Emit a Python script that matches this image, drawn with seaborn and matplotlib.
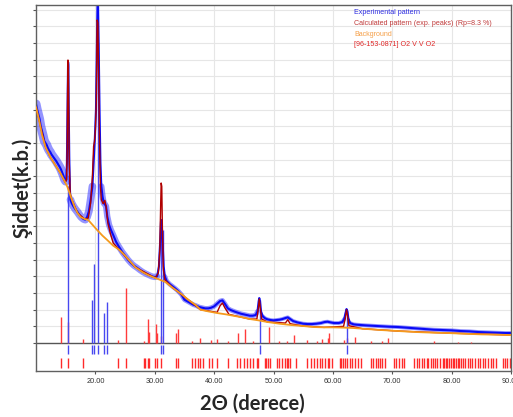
import numpy as np
import matplotlib
matplotlib.use('Agg')
import matplotlib.pyplot as plt
import seaborn as sns

# deneysel desen (2theta, siddet)
exp_x = [10.0, 10.2, 10.4, 10.6, 10.8, 11.0, 11.2, 11.4, 11.6, 11.8, 12.0, 12.2, 12.4, 12.6, 12.8,
         13.0, 13.2, 13.4, 13.6, 13.8, 14.0, 14.2, 14.4, 14.6, 14.8, 15.0, 15.1, 15.2, 15.3, 15.4,
         15.45, 15.5, 15.6, 15.7, 15.8, 16.0, 16.3, 16.6, 17.0, 17.3, 17.6, 18.0, 18.3, 18.6, 18.9,
         19.2, 19.5, 19.7, 19.9, 20.1, 20.25, 20.35, 20.45, 20.55, 20.7, 20.85, 21.0, 21.2, 21.4, 21.6,
         21.8, 22.0, 22.3, 22.6, 23.0, 23.5, 24.0, 24.5, 25.0, 25.5, 26.0, 26.5, 27.0, 27.5, 28.0,
         28.5, 29.0, 29.5, 30.0, 30.4, 30.7, 30.9, 31.05, 31.15, 31.3, 31.5, 31.7, 32.0, 32.5, 33.0,
         33.5, 34.0, 34.5, 35.0, 35.5, 36.0, 36.5, 37.0, 37.5, 38.0, 38.5, 39.0, 39.5, 40.0, 40.5,
         41.0, 41.4, 41.8, 42.3, 42.8, 43.5, 44.0, 44.5, 45.0, 45.5, 46.0, 46.5, 47.0, 47.3, 47.5,
         47.6, 47.7, 47.9, 48.2, 48.6, 49.0, 49.5, 50.0, 50.5, 51.0, 51.5, 52.0, 52.4, 52.8, 53.3,
         54.0, 54.5, 55.0, 55.7, 56.5, 57.2, 58.0, 58.6, 59.1, 59.6, 60.2, 61.0, 61.6, 61.9, 62.1,
         62.3, 62.45, 62.6, 62.9, 63.5, 64.0, 64.7, 65.5, 66.5, 67.5, 68.5, 69.5, 71.0, 72.5, 74.0,
         75.5, 77.0, 78.5, 80.0, 81.5, 83.0, 84.5, 86.0, 87.5, 89.0, 90.0]
exp_y = [717, 700, 686, 672, 650, 636, 622, 606, 600, 594, 585, 578, 573, 566, 561,
         556, 551, 546, 540, 534, 528, 521, 512, 503, 492, 486, 490, 540, 700, 843,
         835, 720, 560, 465, 430, 420, 410, 402, 393, 385, 378, 372, 370, 378, 395,
         430, 470, 540, 610, 700, 880, 1014, 1014, 900, 700, 540, 470, 440, 420, 416,
         410, 380, 355, 340, 324, 303, 288, 274, 262, 250, 240, 232, 226, 219, 213,
         208, 204, 200, 198, 200, 230, 300, 365, 369, 310, 230, 200, 186, 177, 170,
         163, 155, 145, 130, 125, 120, 115, 112, 108, 106, 104, 104, 106, 110, 118,
         126, 128, 118, 104, 99, 94, 91, 88, 86, 84, 82, 82, 84, 95, 125,
         135, 128, 95, 80, 74, 71, 69, 68, 69, 70, 72, 75, 77, 72, 66,
         62, 60, 58, 57, 57, 58, 60, 63, 64, 62, 60, 60, 63, 72, 88,
         102, 95, 75, 60, 56, 55, 54, 53, 52, 51, 50, 49, 48, 46, 44,
         42, 40, 39, 38, 36, 35, 33, 32, 31, 30, 30]

# hesaplanan desen
calc_x = [10.0, 11.6, 12.4, 14.1, 14.9, 15.15, 15.25, 15.32, 15.38, 15.45, 15.52, 15.6, 15.75, 16.0,
          17.0, 18.2, 18.8, 19.2, 19.5, 19.7, 19.85, 20.0, 20.15, 20.3, 20.42, 20.55, 20.7, 20.85,
          21.0, 21.3, 21.6, 21.8, 22.1, 22.5, 23.0, 24.0, 26.7, 30.1, 30.6, 30.85, 31.0, 31.08,
          31.18, 31.3, 31.45, 31.7, 33.0, 35.7, 37.7, 40.5, 41.0, 41.4, 41.8, 42.5, 44.5, 46.0,
          47.2, 47.45, 47.6, 47.75, 48.0, 49.0, 52.0, 52.4, 52.8, 55.0, 58.5, 61.8, 62.1, 62.3,
          62.45, 62.7, 65.0, 71.0, 79.4, 90.0]
calc_y = [708, 588, 558, 510, 482, 490, 580, 760, 849, 830, 680, 540, 450, 432,
          390, 372, 375, 420, 500, 590, 605, 640, 720, 969, 960, 800, 600, 470,
          430, 418, 428, 410, 360, 330, 300, 280, 228, 195, 210, 280, 420, 480,
          470, 330, 220, 190, 166, 129, 100, 92, 112, 120, 106, 86, 78, 72,
          72, 105, 132, 110, 72, 63, 60, 70, 58, 51, 47, 50, 75, 100,
          85, 52, 43, 36, 30, 24]

# arka plan
bg_x = [10.0, 10.5, 11.0, 11.6, 12.4, 13.2, 14.1, 14.7, 15.3, 16.0, 16.5, 17.0, 17.5, 18.2,
        18.8, 19.5, 20.3, 21.2, 22.0, 23.0, 24.0, 24.6, 25.5, 26.7, 28.0, 29.0, 30.1, 31.0,
        31.8, 33.0, 34.5, 35.7, 36.9, 37.7, 39.0, 40.5, 42.0, 43.5, 44.5, 46.0, 47.5, 49.0,
        51.0, 53.0, 55.0, 56.8, 58.5, 60.0, 62.3, 63.5, 65.0, 68.1, 71.0, 74.0, 77.0, 79.4,
        82.0, 85.0, 88.0, 90.0]
bg_y = [708, 670, 625, 588, 558, 535, 510, 490, 468, 432, 408, 390, 378, 372,
        369, 355, 339, 322, 309, 292, 280, 270, 252, 228, 212, 203, 195, 189,
        183, 166, 147, 129, 114, 100, 95, 90, 86, 81, 78, 72, 68, 63,
        58, 54, 51, 48, 47, 47, 46, 45, 43, 39, 36, 33, 31, 30,
        28, 26, 25, 24]

# deneysel pik cizgileri (mavi)
peak_pos = [15.35, 19.5, 19.7, 20.42, 21.4, 21.97, 31.05, 31.4, 47.65, 62.3]
peak_h = [470, 129, 237, 900, 91, 123, 360, 340, 130, 95]

# [96-153-0871] faz cizgileri (kirmizi)
ref_pos = [14.27, 15.4, 17.87, 23.83, 25.23, 28.15, 28.89, 29.11, 30.24, 30.4, 31.13, 33.6, 33.95,
           36.3, 37.6, 39.4, 40.4, 42.3, 44.0, 45.2, 46.6, 49.3, 51.0, 52.2, 53.4, 55.7, 57.4,
           58.2, 59.1, 59.4, 61.9, 62.3, 63.7, 66.4, 68.3, 69.2, 77.0, 81.0, 83.3]
ref_h = [79, 63, 13, 8, 166, 6, 71, 33, 58, 30, 20, 29, 41,
         7, 14, 9, 11, 5, 29, 43, 6, 49, 5, 7, 24, 8, 5,
         12, 14, 29, 8, 14, 19, 5, 7, 14, 7, 4, 4]

# alt seritteki faz konumlari
ref_ticks = [14.27, 15.4, 17.86, 23.83, 25.23, 28.15, 28.43, 28.89, 29.11, 30.12, 30.4, 31.13, 33.6,
             33.95, 36.3, 36.7, 37.2, 37.6, 38.1, 39.1, 39.7, 40.4, 42.3, 43.9, 44.3, 45.0, 45.5,
             46.1, 46.6, 47.2, 47.4, 48.5, 48.8, 49.1, 49.4, 50.6, 51.0, 51.5, 51.9, 52.2, 52.4,
             52.8, 53.8, 55.7, 56.3, 56.8, 57.4, 57.8, 58.2, 58.6, 59.1, 59.3, 59.9, 61.2, 61.4,
             61.7, 62.0, 62.3, 62.8, 63.3, 63.7, 64.2, 64.7, 66.4, 66.8, 67.2, 67.6, 67.9, 68.3,
             68.8, 70.3, 70.7, 71.1, 71.6, 72.0, 73.7, 74.1, 74.5, 75.0, 75.3, 75.8, 76.1, 76.5,
             76.9, 77.2, 77.6, 78.0, 78.5, 78.7, 79.0, 79.3, 79.6, 79.9, 80.2, 80.4, 80.7, 81.0,
             81.3, 81.6, 81.9, 82.3, 82.7, 83.1, 83.5, 84.0, 84.4, 84.8, 85.2, 85.7, 86.1, 86.6,
             87.0, 87.5, 88.6, 89.0, 89.4, 89.9]

legend_lines = ['Experimental pattern', 'Calculated pattern (exp. peaks) (Rp=8.3 %)',
                'Background', '[96-153-0871] O2 V V O2']
legend_colors = ['#2a2ae0', '#c03a3a', '#f5a04a', '#e02828']

sns.set_style('white')
plt.rcParams['font.family'] = ['Liberation Sans', 'DejaVu Sans']

fig = plt.figure(figsize=(5.13, 4.17), dpi=100)
ax = fig.add_axes([0.0702, 0.111, 0.9259, 0.877])

xticks = np.arange(20, 91, 10)
yticks = np.arange(0, 1001, 50)

# izgara
ax.hlines(yticks[1:], 10, 90, color='#e6e6e6', lw=0.8, zorder=0)
ax.vlines(xticks[:-1], 0, 1014, color='#e6e6e6', lw=0.8, zorder=0)
ax.axhline(0, color='#555555', lw=1, zorder=1)

ax.vlines(ref_pos, 0, ref_h, color='#ff3b3b', lw=1, zorder=1)
ax.vlines(peak_pos, 0, peak_h, color='#4848f0', lw=1, zorder=1.5)
ax.vlines(peak_pos, -33, -5, color='#4848f0', lw=1, zorder=1.5)
ax.vlines(ref_ticks, -76, -46, color='#ff2a2a', lw=1, zorder=1.5)

# gurultu bandi: piklerin disindaki duz bolgeler
segments = [(10.0, 15.1, 6.5), (15.8, 19.5, 5.5), (21.0, 30.4, 4.5), (31.7, 47.3, 3.4),
            (48.2, 61.9, 2.8), (62.9, 90.0, 2.8)]
for a, b, w in segments:
    i0, i1 = exp_x.index(a), exp_x.index(b) + 1
    sns.lineplot(x=exp_x[i0:i1], y=exp_y[i0:i1], ax=ax, color='#3c3cff', lw=w, alpha=0.55, zorder=2)
sns.lineplot(x=exp_x, y=exp_y, ax=ax, color='#0a0af5', lw=1.5, zorder=2.2)
sns.lineplot(x=calc_x, y=calc_y, ax=ax, color='#b00000', lw=1, zorder=3)
sns.lineplot(x=bg_x, y=bg_y, ax=ax, color='#f59a1c', lw=1.3, zorder=4)

ax.set_xlim(10, 90)
ax.set_ylim(-83, 1014)
ax.set_xticks(xticks)
ax.set_xticklabels(['%.2f' % t for t in xticks], fontsize=5.3, color='#333333')
ax.set_yticks(yticks)
ax.set_yticklabels([])
ax.tick_params(axis='both', direction='out', length=2, width=0.8, color='#555555', pad=3)
ax.tick_params(axis='y', left=True)
ax.tick_params(axis='x', bottom=True)
for s in ax.spines.values():
    s.set_color('#606060')
    s.set_linewidth(1)
ax.set_xlabel('')
ax.set_ylabel('')

for i, (t, c) in enumerate(zip(legend_lines, legend_colors)):
    fig.text(0.690, 0.9695 - i * 0.0258, t, color=c, fontsize=5.1, va='center', ha='left')

fig.text(0.044, 0.550, 'Şiddet(k.b.)', rotation=90, fontsize=14.5, fontweight='bold',
         ha='center', va='center', family=['Lato', 'DejaVu Sans'])
fig.text(0.492, 0.031, '2Θ (derece)', fontsize=14.5, fontweight='bold',
         ha='center', va='center', family=['Lato', 'DejaVu Sans'])

plt.savefig('out.png', dpi=100)
